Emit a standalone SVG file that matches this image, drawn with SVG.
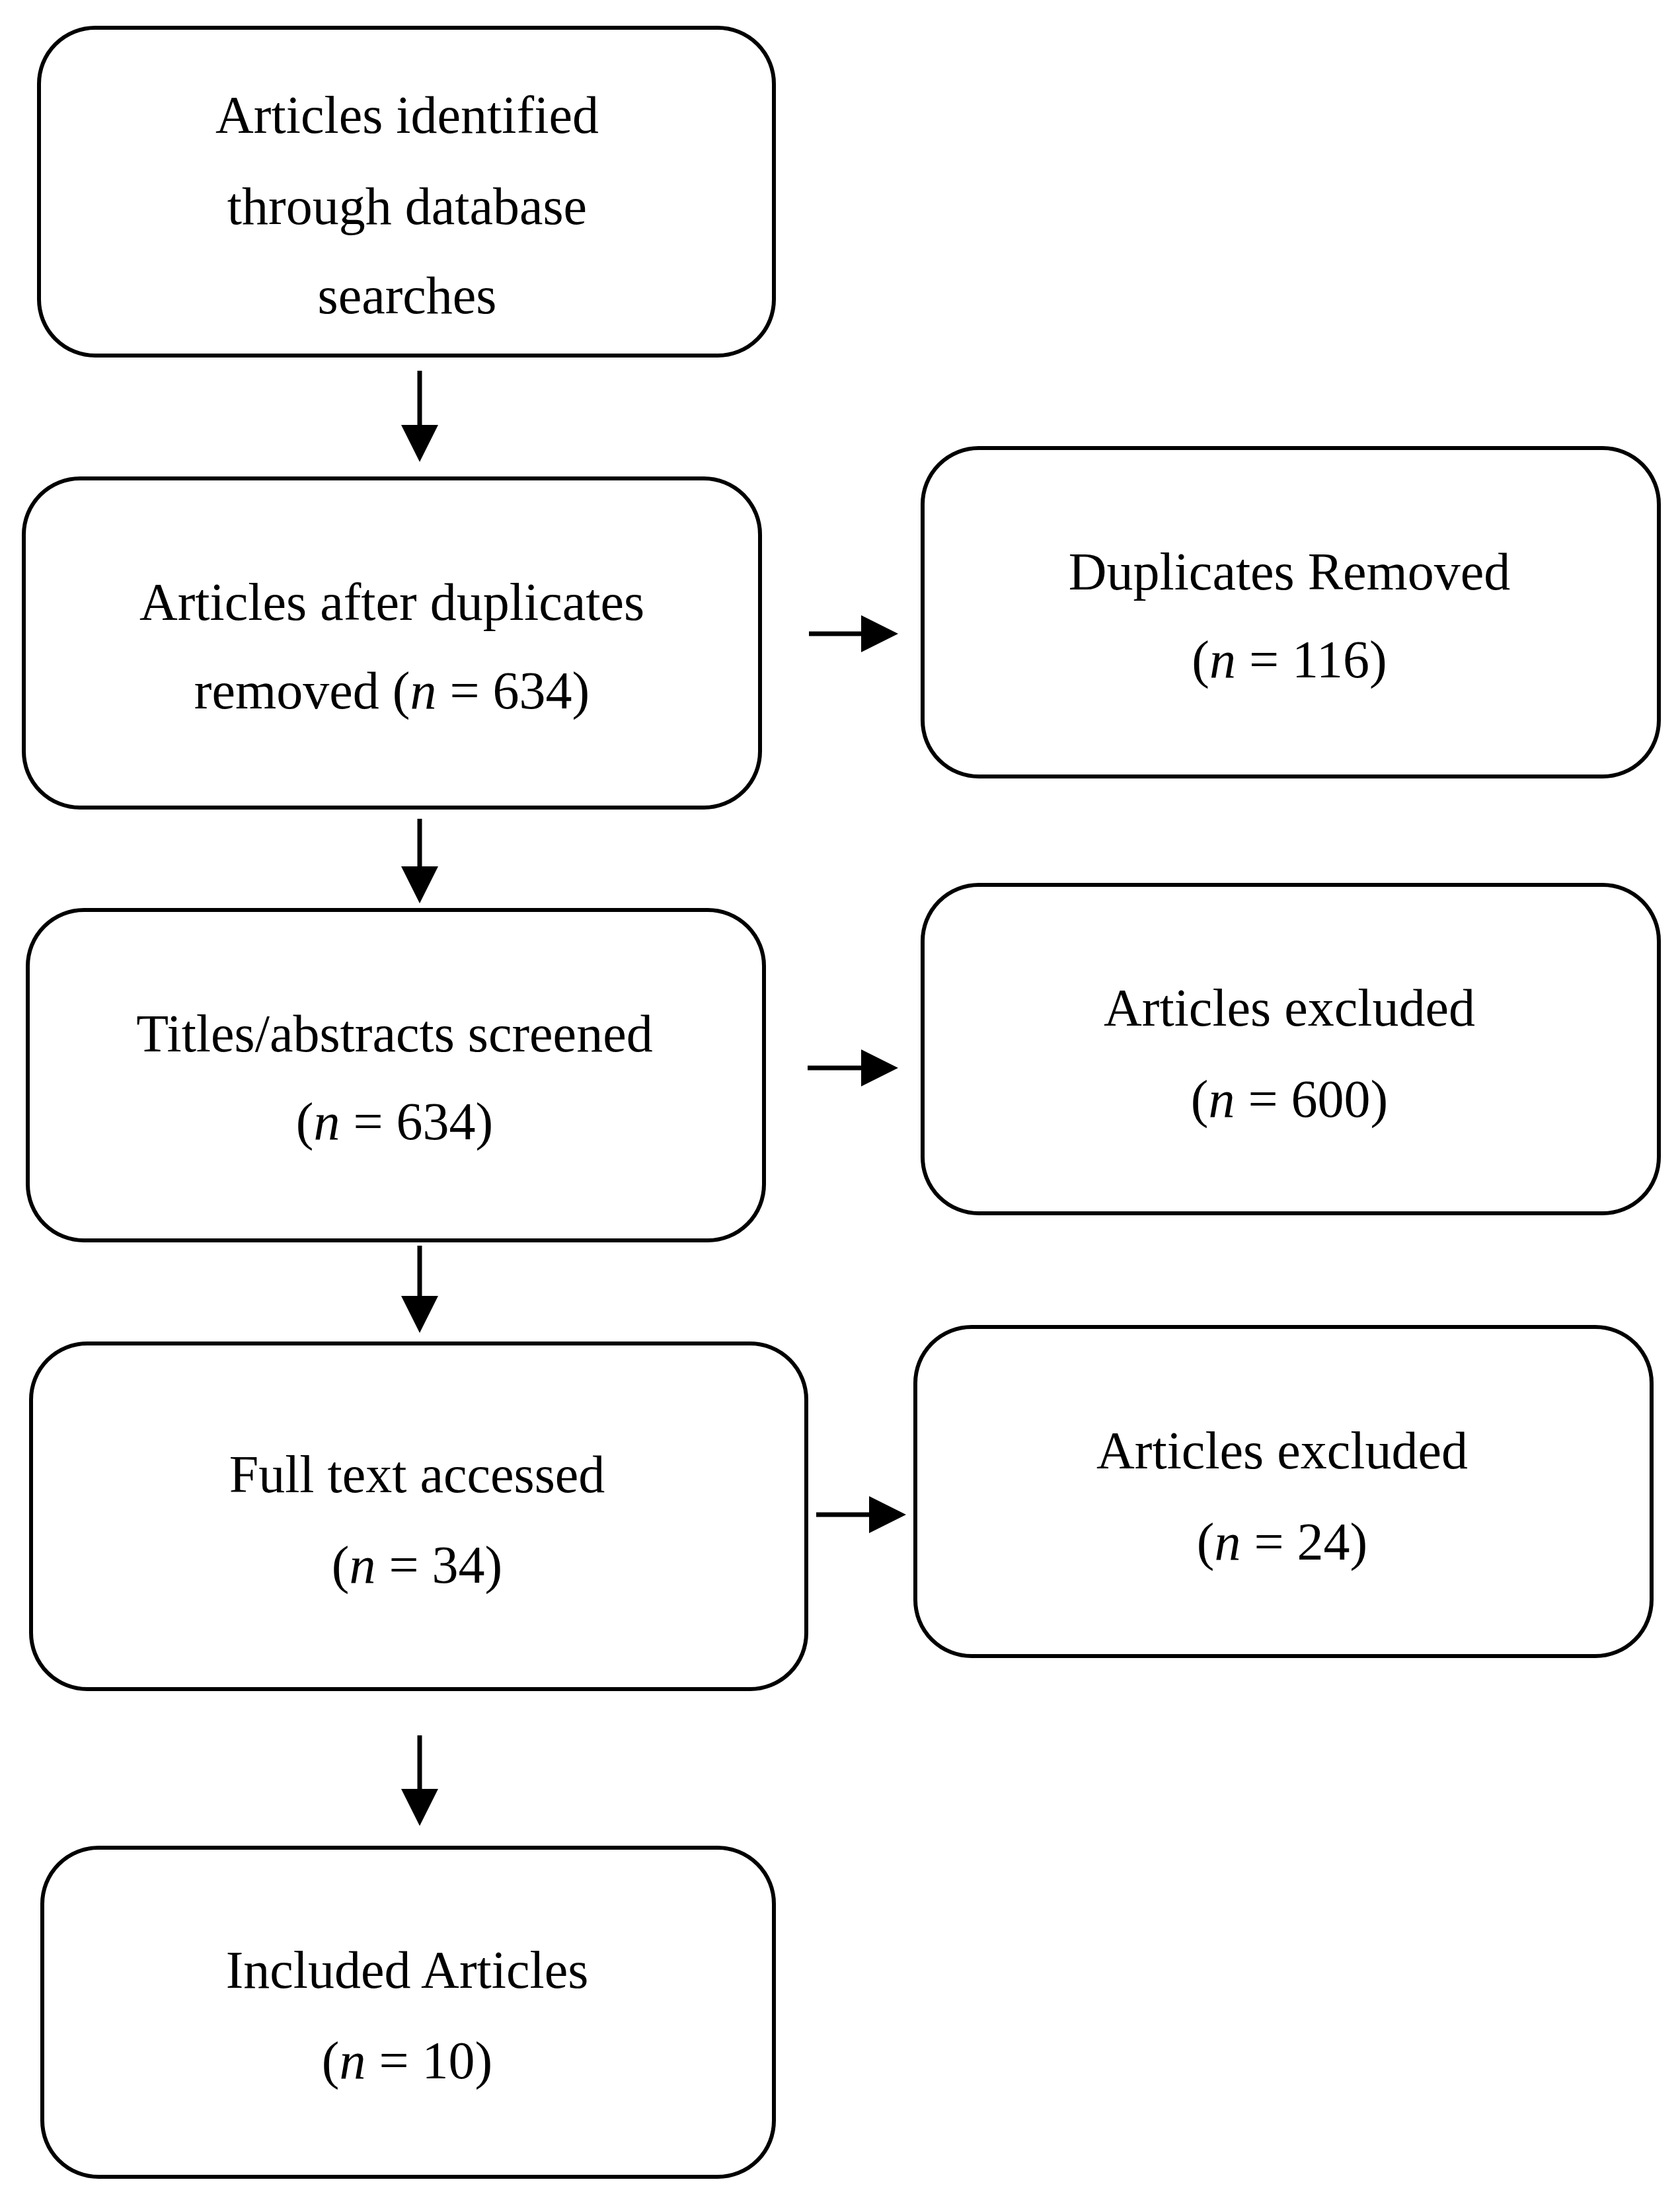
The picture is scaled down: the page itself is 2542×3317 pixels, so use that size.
<svg xmlns="http://www.w3.org/2000/svg" width="2542" height="3317" viewBox="0 0 2542 3317">
<style>
.b{fill:#fff;stroke:#000;stroke-width:6}
text{font-family:"Liberation Serif",serif;font-size:80px;text-anchor:middle;fill:#000}
.c{stroke:#000;stroke-width:7;fill:none}
</style>
<defs><marker id="a" markerWidth="8" markerHeight="8" refX="1" refY="4" orient="auto" markerUnits="strokeWidth"><path d="M0,0L8,4L0,8z" fill="#000"/></marker></defs>
<rect width="2542" height="3317" fill="#fff"/>
<g id="connectors">
<line class="c" x1="635" y1="561" x2="635" y2="650" marker-end="url(#a)"/>
<line class="c" x1="635" y1="1239" x2="635" y2="1318" marker-end="url(#a)"/>
<line class="c" x1="635" y1="1885" x2="635" y2="1968" marker-end="url(#a)"/>
<line class="c" x1="635" y1="2626" x2="635" y2="2714" marker-end="url(#a)"/>
<line class="c" x1="1224" y1="959" x2="1310" y2="959" marker-end="url(#a)"/>
<line class="c" x1="1222" y1="1616" x2="1310" y2="1616" marker-end="url(#a)"/>
<line class="c" x1="1235" y1="2292" x2="1322" y2="2292" marker-end="url(#a)"/>
</g>
<g id="n1"><rect class="b" x="59" y="42" width="1112" height="496" rx="85"/><text x="616" y="201">Articles identified</text><text x="616" y="339">through database</text><text x="616" y="474">searches</text></g>
<g id="n2"><rect class="b" x="36" y="724" width="1114" height="498" rx="85"/><text x="593" y="938">Articles after duplicates</text><text x="593" y="1072">removed (<tspan font-style="italic">n</tspan> = 634)</text></g>
<g id="r1"><rect class="b" x="1396" y="678" width="1114" height="497" rx="85"/><text x="1951" y="892">Duplicates Removed</text><text x="1951" y="1025">(<tspan font-style="italic">n</tspan> = 116)</text></g>
<g id="n3"><rect class="b" x="42" y="1377" width="1114" height="500" rx="85"/><text x="597" y="1591">Titles/abstracts screened</text><text x="597" y="1724">(<tspan font-style="italic">n</tspan> = 634)</text></g>
<g id="r2"><rect class="b" x="1396" y="1339" width="1114" height="497" rx="85"/><text x="1951" y="1552">Articles excluded</text><text x="1951" y="1690">(<tspan font-style="italic">n</tspan> = 600)</text></g>
<g id="n4"><rect class="b" x="47" y="2033" width="1173" height="523" rx="85"/><text x="631" y="2258">Full text accessed</text><text x="631" y="2395">(<tspan font-style="italic">n</tspan> = 34)</text></g>
<g id="r3"><rect class="b" x="1385" y="2008" width="1114" height="498" rx="85"/><text x="1940" y="2222">Articles excluded</text><text x="1940" y="2360">(<tspan font-style="italic">n</tspan> = 24)</text></g>
<g id="n5"><rect class="b" x="64" y="2796" width="1107" height="498" rx="85"/><text x="616" y="3008">Included Articles</text><text x="616" y="3145">(<tspan font-style="italic">n</tspan> = 10)</text></g>
</svg>
